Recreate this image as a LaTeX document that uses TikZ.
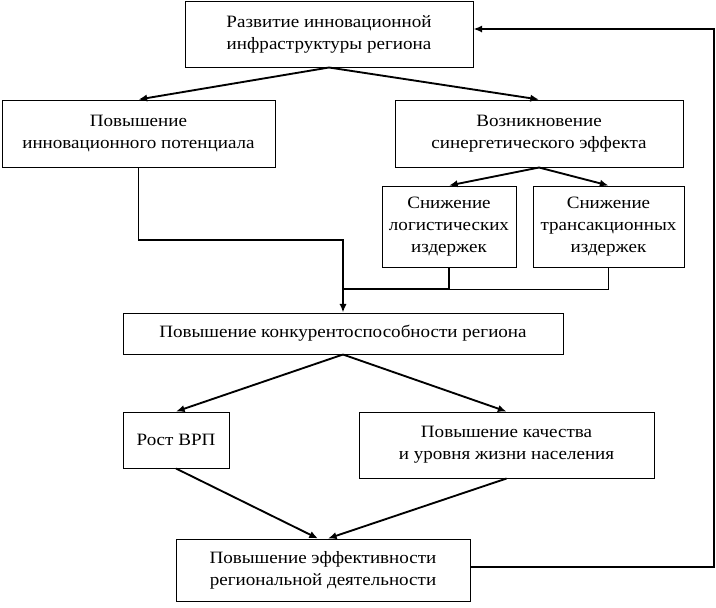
\documentclass[tikz,border=0pt]{standalone}
\usepackage{fontspec}
\setmainfont{Liberation Serif}[FakeStretch=1.1]
\usetikzlibrary{arrows.meta}
\begin{document}
\begin{tikzpicture}[x=0.75pt,y=-0.75pt,
  box/.style={draw, line width=0.75pt, inner sep=0pt, align=center, font=\fontsize{13}{16.5}\selectfont},
  sz/.style 2 args={minimum width=#1*0.75pt, minimum height=#2*0.75pt},
  con/.style={line width=1.4pt},
  thin con/.style={line width=0.75pt},
  arr/.style={con, -{Latex[length=6.5pt,width=5.5pt]}},
]
\useasboundingbox (0,0) rectangle (716,607);
\node[box, sz={288}{66}] (top) at (329,34) {Развитие инновационной\\инфраструктуры региона};
\node[box, sz={273}{67}] (pot) at (138.5,133.5) {Повышение\\инновационного потенциала};
\node[box, sz={288}{67}] (syn) at (539,133.5) {Возникновение\\синергетического эффекта};
\node[box, sz={134}{81}] (log) at (449,226.5) {Снижение\\логистических\\издержек};
\node[box, sz={151}{81}] (tra) at (608.5,226.5) {Снижение\\трансакционных\\издержек};
\node[box, sz={440}{41}] (com) at (343,333.5) {Повышение конкурентоспособности региона};
\node[box, sz={106}{56}] (vrp) at (176,440) {Рост ВРП};
\node[box, sz={295}{66}] (qua) at (506.5,445) {Повышение качества\\и уровня жизни населения};
\node[box, sz={294}{62}] (eff) at (323,570) {Повышение эффективности\\региональной деятельности};

\coordinate (j1) at (343,240);
\coordinate (j2) at (343,289);
\coordinate (fbA) at (714,567);
\coordinate (fbB) at (714,29);

\draw[arr] (top.south) -- (pot.north);
\draw[arr] (top.south) -- (syn.north);
\draw[arr] (syn.south) -- (log.north);
\draw[arr] (syn.south) -- (tra.north);
\draw[arr] (pot.south) |- (j1) -- (com.north);
\draw[con] (log.south) |- (j2);
\draw[thin con] (tra.south) |- (log.south |- j2);
\draw[arr] (com.south) -- (vrp.north);
\draw[arr] (com.south) -- (qua.north);
\draw[arr] (vrp.south) -- ([xshift=-3.75pt]eff.north);
\draw[arr] (qua.south) -- ([xshift=3.75pt]eff.north);
\draw[arr] (eff.east |- fbA) -- (fbA) -- (fbB) -- (top.east |- fbB);
\end{tikzpicture}
\end{document}
